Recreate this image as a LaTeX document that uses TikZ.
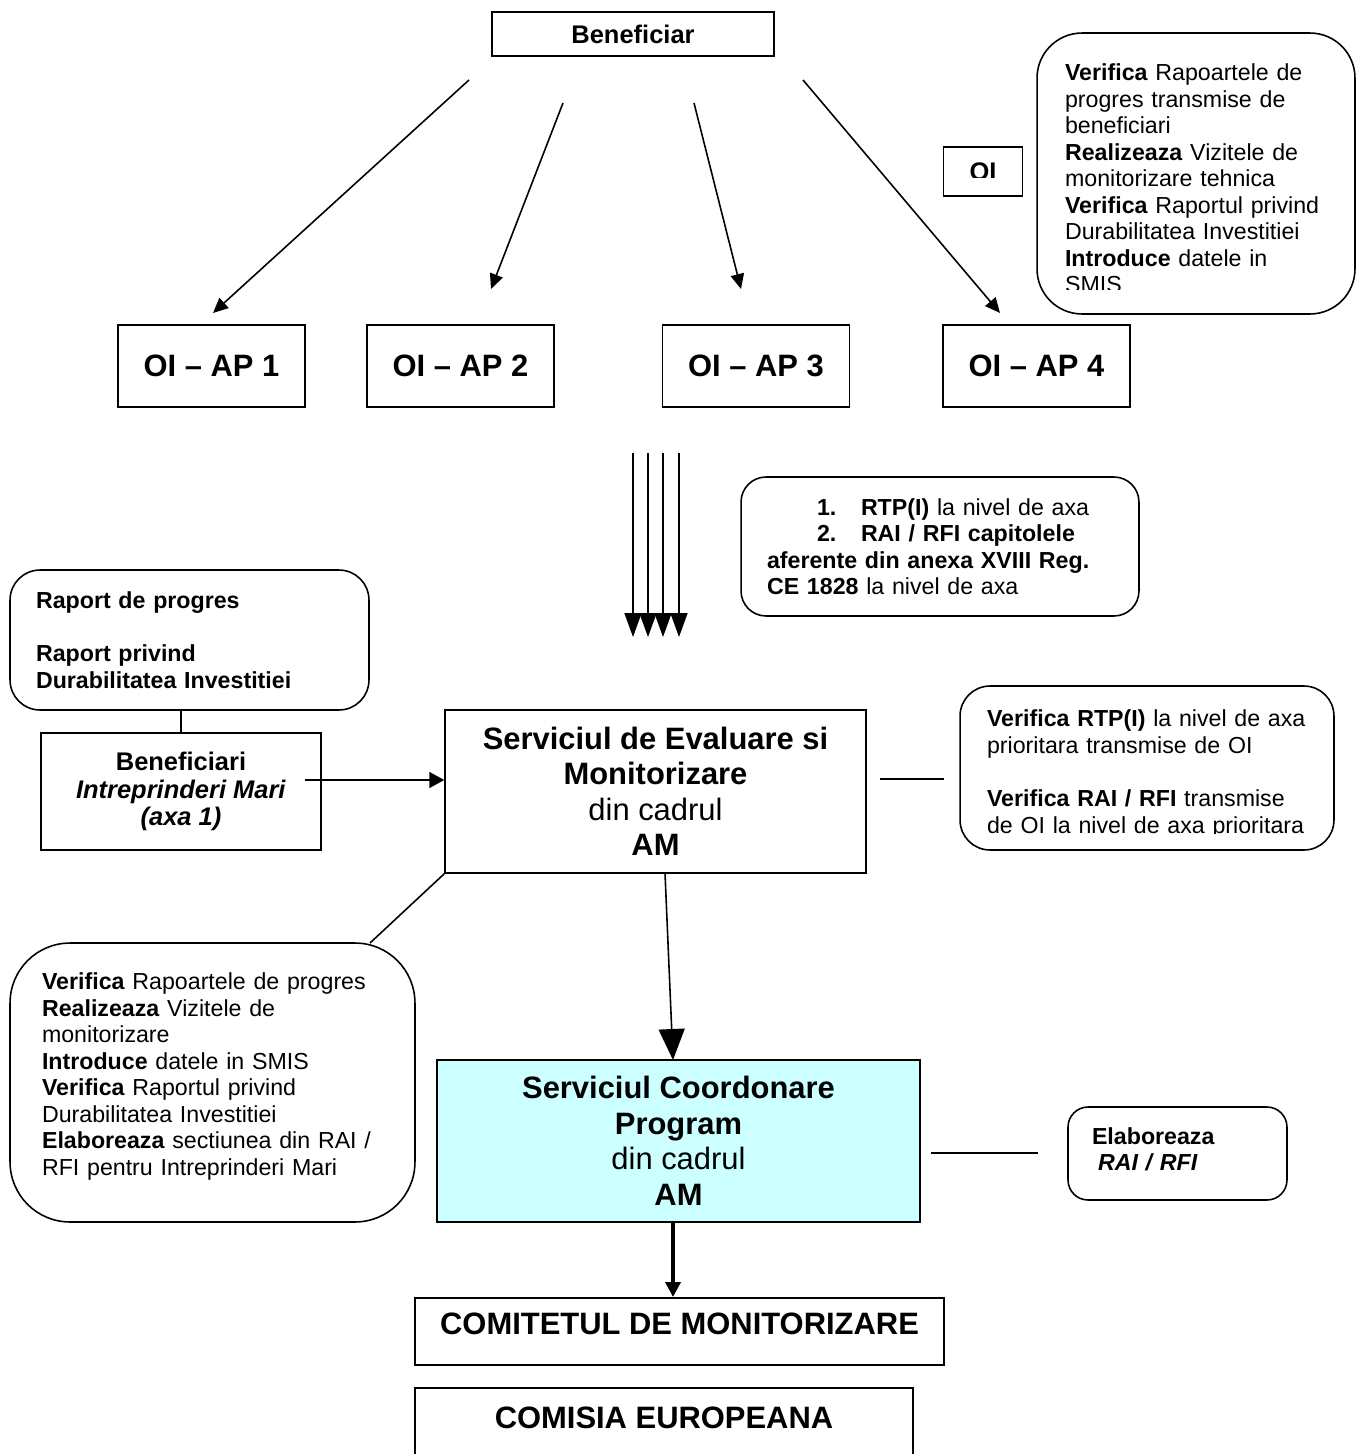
\documentclass[tikz,border=0pt]{standalone}
\usepackage{fontspec}
\setmainfont{Liberation Sans}
\usetikzlibrary{arrows.meta}
\definecolor{scpfill}{HTML}{CCFFFF}

\begin{document}
\begin{tikzpicture}[x=0.02cm,y=-0.02cm]
\tikzset{box/.style={draw, line width=0.9pt, inner sep=0pt}}
\tikzset{call/.style={draw, line width=0.9pt, rounded corners=#1, inner sep=0pt, align=left}, call/.default=0.6cm}
\tikzset{fbody/.style={font=\fontsize{13.2}{15.1}\selectfont}}
\tikzset{fmid/.style={font=\fontsize{14.5}{15.7}\selectfont}}
\tikzset{fbig/.style={font=\fontsize{17.6}{20.2}\selectfont}}

\useasboundingbox (0,0) rectangle (1357,1454);

\node [box,fmid,minimum width=5.64cm,minimum height=0.88cm] (ben) at (633,34) {\textbf{Beneficiar}};
\foreach \x [count=\i] in {211.5,460.5,756,1036.5}
  \node [box,fbig,minimum width=3.74cm,minimum height=1.64cm] (ap\i) at (\x,366) {\textbf{OI – AP \i}};

% texts cut off at the bottom (holes run the other way round)
\begin{scope}
\clip (0,0) rectangle (1357,1454) (1019,177) rectangle (948,186)
  (1340,289) rectangle (1060,300) (1316,833.5) rectangle (980,846);
\node [box,fmid,minimum width=1.58cm,minimum height=0.98cm,text height=0.66cm,text depth=0.32cm] (oi) at (983,171.5) {\textbf{OI}};
\node [call=0.9cm,fbody,minimum width=6.36cm,minimum height=5.62cm,text width=5.24cm] (tr) at (1196,173.5)
  {\rule{0pt}{15.3pt}\textbf{Verifica} Rapoartele de\\ progres transmise de\\ beneficiari\\ \textbf{Realizeaza} Vizitele de\\ monitorizare tehnica\\
   \textbf{Verifica} Raportul privind\\ Durabilitatea Investitiei\\ \textbf{Introduce} datele in\\ SMIS};
\node [call,fbody,minimum width=7.48cm,minimum height=3.28cm,text width=6.4cm] (rc) at (1147,768)
  {\rule{0pt}{16.4pt}\textbf{Verifica RTP(I)} la nivel de axa\\ prioritara transmise de OI\\[\baselineskip]
   \textbf{Verifica RAI / RFI} transmise\\ de OI la nivel de axa prioritara};
\end{scope}

\node [call=0.5cm,fbody,minimum width=7.96cm,minimum height=2.78cm,text width=6.92cm] (rtp) at (940,546.5)
  {\hspace*{1cm}\makebox[0.88cm][l]{\textbf{1.}}\textbf{RTP(I)} la nivel de axa\\
   \hspace*{1cm}\makebox[0.88cm][l]{\textbf{2.}}\textbf{RAI / RFI capitolele}\\
   \textbf{aferente din anexa XVIII Reg.}\\ \textbf{CE 1828} la nivel de axa};
\node [call,fbody,minimum width=7.18cm,minimum height=2.8cm,text width=6.14cm] (rp) at (189.5,640)
  {\textbf{Raport de progres}\\[\baselineskip] \textbf{Raport privind}\\ \textbf{Durabilitatea Investitiei}};
\node [box,fmid,align=center,minimum width=5.6cm,minimum height=2.34cm] (bm) at (181,791.5)
  {\textbf{Beneficiari}\\ \textbf{\textit{Intreprinderi Mari}}\\ \textbf{\textit{(axa 1)}}};
\node [box,fbig,align=center,minimum width=8.42cm,minimum height=3.26cm] (sem) at (655.5,791.5)
  {\textbf{Serviciul de Evaluare si}\\ \textbf{Monitorizare}\\ din cadrul\\ \textbf{AM}};
\node [call=1.2cm,fbody,minimum width=8.1cm,minimum height=5.58cm,text width=6.82cm] (ll) at (212.5,1082.5)
  {\textbf{Verifica} Rapoartele de progres\\ \textbf{Realizeaza} Vizitele de\\ monitorizare\\ \textbf{Introduce} datele in SMIS\\
   \textbf{Verifica} Raportul privind\\ Durabilitatea Investitiei\\ \textbf{Elaboreaza} sectiunea din RAI /\\ RFI pentru Intreprinderi Mari\rule[-9.6pt]{0pt}{0pt}};
\node [box,fbig,align=center,fill=scpfill,minimum width=9.66cm,minimum height=3.24cm] (scp) at (678.5,1141)
  {\textbf{Serviciul Coordonare}\\ \textbf{Program}\\ din cadrul\\ \textbf{AM}};
\node [call=0.4cm,fbody,minimum width=4.38cm,minimum height=1.86cm,text width=3.42cm] (el) at (1177.5,1153.5)
  {\textbf{Elaboreaza}\\ \hspace*{0.12cm}\textbf{\textit{RAI / RFI}}\rule[-4.8pt]{0pt}{0pt}};
\node [box,fbig,anchor=north,minimum width=10.58cm,text height=0.74cm,text depth=0.6cm] (cm) at (679.5,1297)
  {\textbf{COMITETUL DE MONITORIZARE}};
\node [box,fbig,anchor=north,minimum width=9.96cm,text height=0.82cm,text depth=1.0cm] (ce) at (664,1387)
  {\textbf{COMISIA EUROPEANA}};

\coordinate (b1) at (469,80);  \coordinate (t1) at (213,313);
\coordinate (b2) at (563,103); \coordinate (t2) at (491,289);
\coordinate (b3) at (694,103); \coordinate (t3) at (741,289);
\coordinate (b4) at (803,80);  \coordinate (t4) at (1000,313);
\coordinate (bmout) at (305,780);
\coordinate (r1) at (880,779); \coordinate (r2) at (944,779);
\coordinate (lltop) at (370,943);
\coordinate (s1) at (665,873); \coordinate (s2) at (673,1060);
\coordinate (e1) at (931,1153); \coordinate (e2) at (1038,1153);

\begin{scope}[>={Triangle[length=0.3cm,width=0.27cm]},line width=0.9pt]
\foreach \i in {1,...,4}
  \draw [->] (b\i) -- (t\i);
\foreach \x [count=\i] in {633,648,663,679} {
  \coordinate (v\i) at (\x,453);
  \coordinate (w\i) at (\x,637);
  \draw [-{Triangle[length=0.48cm,width=0.34cm]}] (v\i) -- (w\i);
}
\draw (bm.north |- rp.south) -- (bm.north);
\draw [-{Triangle[length=0.3cm,width=0.32cm]}] (bmout) -- (bmout -| sem.west);
\draw (r1) -- (r2);
\draw (sem.south west) -- (lltop);
\draw [-{Triangle[length=0.62cm,width=0.52cm]}] (s1) -- (s2);
\draw (e1) -- (e2);
\draw [-{Triangle[length=0.3cm,width=0.3cm]},line width=2.2pt] (scp.south -| s2) -- (s2 |- cm.north);
\end{scope}

\end{tikzpicture}
\end{document}
